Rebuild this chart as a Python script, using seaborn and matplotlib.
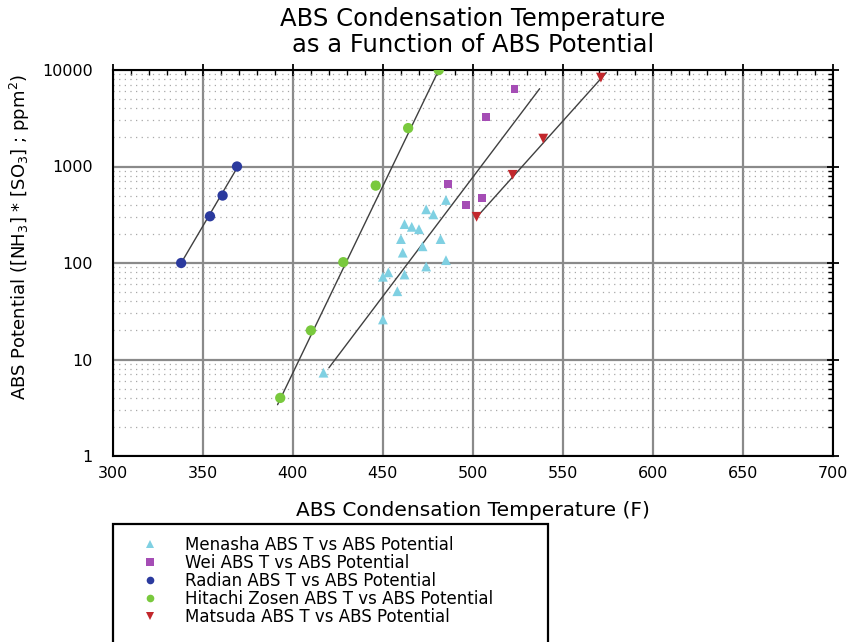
import numpy as np
import pandas as pd
import matplotlib
matplotlib.use("Agg")
import matplotlib.pyplot as plt
import seaborn as sns
from matplotlib.ticker import MultipleLocator, LogLocator, FuncFormatter, NullFormatter
from matplotlib.lines import Line2D
from matplotlib.patches import Rectangle

# ---- data: ABS condensation temperature (F) vs ABS potential ([NH3]*[SO3], ppm^2)
series_names = [
    "Menasha ABS T vs ABS Potential",
    "Wei ABS T vs ABS Potential",
    "Radian ABS T vs ABS Potential",
    "Hitachi Zosen ABS T vs ABS Potential",
    "Matsuda ABS T vs ABS Potential",
]

menasha_t = [417, 450, 458, 450, 453, 462, 474, 485, 461, 472, 460, 482, 462, 466, 470, 474, 478, 485]
menasha_p = [7.3, 26, 51, 72, 80, 76, 92, 107, 128, 149, 177, 177, 253, 237, 224, 360, 319, 450]

wei_t = [486, 496, 505, 507, 523]
wei_p = [656, 402, 475, 3270, 6400]

radian_t = [338, 354, 361, 369]
radian_p = [100, 305, 500, 1000]

hitachi_t = [393, 410, 428, 446, 464, 481]
hitachi_p = [4, 20, 102, 634, 2500, 10000]

matsuda_t = [502, 522, 539, 571]
matsuda_p = [301, 820, 1945, 8340]

# end points of the fitted trend lines
radian_fit_t = [338, 369.5]
radian_fit_p = [100, 1000]
hitachi_fit_t = [391.5, 481]
hitachi_fit_p = [3.4, 10000]
menasha_fit_t = [420, 537]
menasha_fit_p = [8.2, 6400]
matsuda_fit_t = [503.5, 574]
matsuda_fit_p = [320, 9400]

x_ticks = [300, 350, 400, 450, 500, 550, 600, 650, 700]
y_ticks = [1, 10, 100, 1000, 10000]

colors = ["#7fd0e2", "#a54db5", "#2b3a9e", "#79c93d", "#c2272c"]
markers = ["^", "s", "o", "o", "v"]
sizes = [50, 32, 55, 55, 50]

# ---- figure
sns.set_theme(style="white")
plt.rcParams["font.family"] = ["DejaVu Sans"]
plt.rcParams["mathtext.fontset"] = "dejavusans"
plt.rcParams["text.color"] = "black"

W, H = 851, 642
fig = plt.figure(figsize=(W / 100, H / 100), dpi=100)
fig.patch.set_facecolor("white")
ax = fig.add_axes([112.7 / W, 1 - 456 / H, 720.6 / W, 386 / H])
ax.set_facecolor("white")
ax.set_yscale("log")

temps = [menasha_t, wei_t, radian_t, hitachi_t, matsuda_t]
pots = [menasha_p, wei_p, radian_p, hitachi_p, matsuda_p]
df = pd.concat(
    [pd.DataFrame({"T": t, "P": p, "series": n}) for n, t, p in zip(series_names, temps, pots)],
    ignore_index=True,
)

# trend lines
for ft, fp in [(radian_fit_t, radian_fit_p), (hitachi_fit_t, hitachi_fit_p),
               (menasha_fit_t, menasha_fit_p), (matsuda_fit_t, matsuda_fit_p)]:
    sns.lineplot(x=ft, y=fp, ax=ax, color="#404040", linewidth=1.0, zorder=3,
                 estimator=None, sort=False)

sns.scatterplot(
    data=df, x="T", y="P", hue="series", style="series", size="series",
    palette=dict(zip(series_names, colors)),
    markers=dict(zip(series_names, markers)),
    sizes=dict(zip(series_names, sizes)),
    edgecolor="none", linewidth=0, ax=ax, legend=False, zorder=4,
)

# ---- axes, ticks, grid
ax.set_xlim(300, 700)
ax.set_ylim(1, 10000)
ax.xaxis.set_major_locator(plt.FixedLocator(x_ticks))
ax.xaxis.set_minor_locator(MultipleLocator(10))
ax.yaxis.set_major_locator(plt.FixedLocator(y_ticks))
ax.yaxis.set_minor_locator(LogLocator(base=10, subs=np.arange(2, 10), numticks=20))
ax.yaxis.set_major_formatter(FuncFormatter(lambda v, _: f"{v:g}"))
ax.yaxis.set_minor_formatter(NullFormatter())

ax.grid(which="major", color="#8a8a8a", linewidth=1.6, zorder=1)
ax.yaxis.grid(which="minor", color="#a8a8a8", linestyle=(0, (1, 3.5)), linewidth=0.9, zorder=1)
ax.xaxis.grid(which="minor", visible=False)
ax.set_axisbelow(True)

for s in ax.spines.values():
    s.set_color("black")
    s.set_linewidth(1.5)

ax.tick_params(which="major", direction="inout", length=8, width=1.3, color="black",
               top=True, right=True, labelsize=11.5, labelcolor="black")
ax.tick_params(which="minor", direction="in", length=3.5, width=1.0, color="black",
               top=True, right=True)
ax.tick_params(axis="x", which="major", pad=3.2)
ax.tick_params(axis="y", which="major", pad=10.5)

ax.set_xlabel("ABS Condensation Temperature (F)", fontsize=14.5, color="black")
ax.xaxis.set_label_coords(0.5, -0.140)
ax.xaxis.label.set_va("center")

ax.set_ylabel(r"ABS Potential ([NH$_3$] * [SO$_3$] ; ppm$^2$)", fontsize=13, color="black")
ax.yaxis.set_label_coords(-0.1286, 0.567)
ax.yaxis.label.set_va("center")

ax.set_title("ABS Condensation Temperature\nas a Function of ABS Potential",
             fontsize=17.5, linespacing=1.1, pad=13, color="black")

# ---- legend below the plot
handles = [Line2D([], [], linestyle="none", marker=m, color=c, markersize=5.5, markeredgewidth=0)
           for m, c in zip(markers, colors)]
leg = fig.legend(handles, series_names, loc="upper left",
                 bbox_to_anchor=(141.6 / W, 1 - 535.5 / H), bbox_transform=fig.transFigure,
                 frameon=False, fontsize=12, handlelength=1.0, handletextpad=1.6,
                 borderpad=0, borderaxespad=0, labelspacing=0.0)
for txt in leg.get_texts():
    txt.set_color("black")
fig.add_artist(Rectangle((113 / W, -0.05), (548 - 113) / W, (1 - 524 / H) + 0.05,
                         transform=fig.transFigure, fill=False, edgecolor="black",
                         linewidth=1.6, clip_on=False))

fig.savefig("out.png", dpi=100, facecolor="white")
